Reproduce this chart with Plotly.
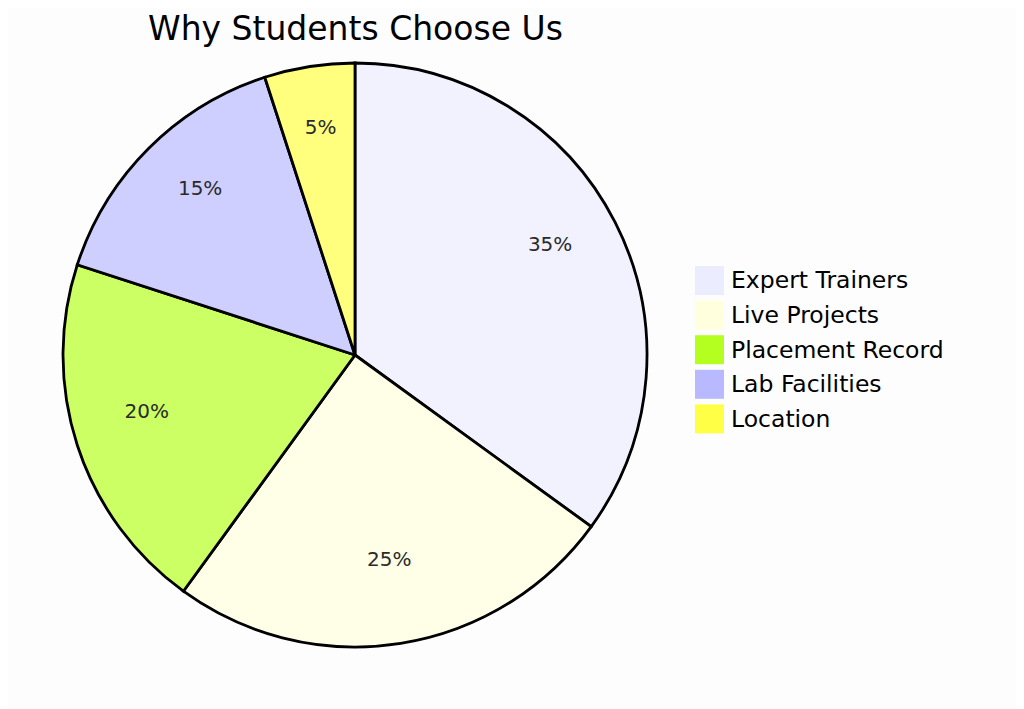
import plotly.graph_objects as go

labels = ["Expert Trainers", "Live Projects", "Placement Record", "Lab Facilities", "Location"]
values = [35, 25, 20, 15, 5]
title_text = "Why Students Choose Us"

slice_colors = ["#f2f2ff", "#ffffe8", "#cbff63", "#ceceff", "#ffff7d"]
legend_colors = ["#ececff", "#ffffde", "#b5ff20", "#b9b9ff", "#ffff45"]

W, H = 1024, 709
OFF = 8  # page body margin
cx, cy, r = 355 - OFF, 355 - OFF, 292
RMAX = 1.012  # small headroom so the outer border is not clipped
rd = r * RMAX

dom = dict(x=[(cx - rd) / W, (cx + rd) / W], y=[(H - cy - rd) / H, (H - cy + rd) / H])

total = sum(values)
mid_theta = []
widths = []
acc = 0
for v in values:
    mid_theta.append((acc + v / 2) / total * 360)
    widths.append(v / total * 360)
    acc += v
pct_text = [f"{v / total * 100:.0f}%" for v in values]

fig = go.Figure()
fig.add_trace(go.Barpolar(
    r=[1] * len(values), theta=mid_theta, width=widths, base=0,
    marker=dict(color=slice_colors, line=dict(color="#000000", width=2.8)),
    text=labels, hoverinfo="text", showlegend=False,
))
fig.add_trace(go.Scatterpolar(
    r=[0.75] * len(values), theta=mid_theta, mode="text", text=pct_text,
    textposition="top center",
    textfont=dict(family="DejaVu Sans", size=20, color="#2a2a2a"),
    showlegend=False, hoverinfo="skip",
))

shapes = []
annotations = []
lx, ly0, sq, step = 695 - OFF, 266 - OFF, 29, 34.6
for i, (lab, col) in enumerate(zip(labels, legend_colors)):
    y = ly0 + i * step
    shapes.append(dict(type="rect", xref="paper", yref="paper",
                       x0=lx / W, x1=(lx + sq) / W,
                       y0=1 - (y + sq) / H, y1=1 - y / H,
                       fillcolor=col, line=dict(width=0)))
    annotations.append(dict(text=lab, xref="paper", yref="paper",
                            x=(lx + sq + 5) / W, y=1 - (y + sq / 2) / H,
                            xanchor="left", yanchor="middle", showarrow=False,
                            font=dict(family="DejaVu Sans", size=23.5, color="#000000")))

annotations.append(dict(text=title_text, xref="paper", yref="paper",
                        x=cx / W, y=1, xanchor="center", yanchor="top",
                        showarrow=False, borderpad=0,
                        font=dict(family="DejaVu Sans", size=33, color="#000000")))

fig.update_layout(
    width=W, height=H, margin=dict(l=0, r=0, t=0, b=0),
    paper_bgcolor="#fdfdfd", plot_bgcolor="#fdfdfd",
    shapes=shapes, annotations=annotations,
    polar=dict(
        domain=dom, bgcolor="rgba(0,0,0,0)", bargap=0,
        radialaxis=dict(range=[0, RMAX], visible=False, showgrid=False),
        angularaxis=dict(direction="clockwise", rotation=90, visible=False,
                         showgrid=False, showline=False, ticks=""),
    ),
)

fig.write_html("out.html")
